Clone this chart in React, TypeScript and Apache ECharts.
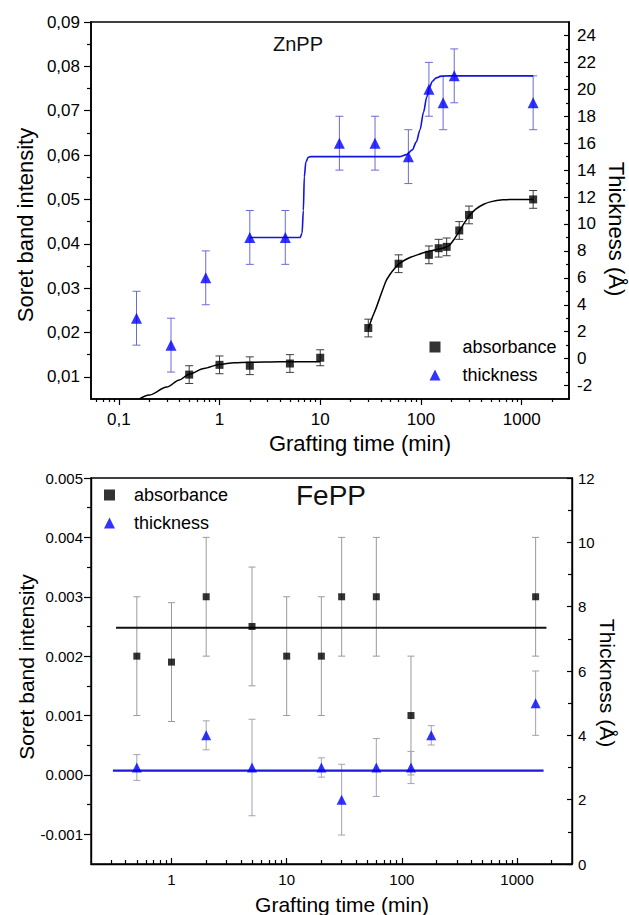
import React, { useEffect, useRef } from 'react';
import * as echarts from 'echarts';

const FONT = '"Liberation Sans", Arial, Helvetica, sans-serif';

// ---------- ZnPP (top chart) ----------
const znAbsTime = [0.5, 1, 2, 5, 10, 30, 60, 120, 150, 180, 240, 300, 1300];
const znAbsValue = [0.0105, 0.0127, 0.0125, 0.013, 0.0143, 0.021, 0.0355, 0.0375, 0.039, 0.0393, 0.043, 0.0465, 0.05];
const znAbsError = [0.002, 0.002, 0.002, 0.002, 0.0018, 0.002, 0.002, 0.002, 0.002, 0.002, 0.002, 0.002, 0.002];

const znThkTime = [0.15, 0.33, 0.73, 2, 4.5, 15.5, 35, 75, 120, 166, 214, 1300];
const znThkValue = [3, 1, 6, 9, 9, 16, 16, 15, 20, 19, 21, 19];
const znThkError = [2, 2, 2, 2, 2, 2, 2, 2, 2, 2, 2, 2];

const znAbsFit1Time = [0.16, 0.2, 0.3, 0.4, 0.5, 0.7, 1, 1.4, 2, 4, 10];
const znAbsFit1Value = [0.005, 0.0059, 0.0077, 0.0093, 0.0106, 0.0119, 0.0128, 0.0132, 0.0133, 0.0134, 0.0134];
const znAbsFit2Time = [30, 33, 36, 40, 45, 50, 55, 60, 70, 80, 95, 110, 130, 150, 170, 190, 210, 240, 270, 300, 350, 420, 500, 650, 850, 1300];
const znAbsFit2Value = [0.0209, 0.0235, 0.0256, 0.0285, 0.0316, 0.0333, 0.0345, 0.0354, 0.0364, 0.037, 0.0376, 0.0381, 0.0385, 0.0388, 0.0391, 0.0396, 0.0408, 0.0428, 0.0447, 0.0462, 0.0478, 0.0489, 0.0495, 0.0499, 0.05, 0.05];
const znThkFitTime = [2, 6.3, 6.6, 6.8, 6.95, 7.2, 7.6, 8, 61, 72, 82, 90, 98, 106, 114, 121, 130, 142, 160, 190, 1300];
const znThkFitValue = [9, 9, 9.3, 11, 13.5, 14.6, 14.95, 15, 15, 15.15, 15.5, 16.1, 17, 18.3, 19.4, 20.1, 20.6, 20.85, 20.97, 21, 21];

const znXTicks = [0.1, 1, 10, 100, 1000];
const znYLeftTicks = [0.01, 0.02, 0.03, 0.04, 0.05, 0.06, 0.07, 0.08, 0.09];
const znYLeftMinor = [0.015, 0.025, 0.035, 0.045, 0.055, 0.065, 0.075, 0.085];
const znYRightTicks = [-2, 0, 2, 4, 6, 8, 10, 12, 14, 16, 18, 20, 22, 24];
const znYRightMinor = [-1, 1, 3, 5, 7, 9, 11, 13, 15, 17, 19, 21, 23];

// ---------- FePP (bottom chart) ----------
const feAbsTime = [0.5, 1, 2, 5, 10, 20, 30, 60, 120, 1450];
const feAbsValue = [0.002, 0.0019, 0.003, 0.0025, 0.002, 0.002, 0.003, 0.003, 0.001, 0.003];
const feAbsError = [0.001, 0.001, 0.001, 0.001, 0.001, 0.001, 0.001, 0.001, 0.001, 0.001];

const feThkTime = [0.5, 2, 5, 20, 30, 60, 120, 180, 1450];
const feThkValue = [3, 4, 3, 3, 2, 3, 3, 4, 5];
const feThkError = [0.4, 0.45, 1.5, 0.3, 1.1, 0.9, 0.5, 0.3, 1];

const feAbsFitTime = [0.33, 1800];
const feAbsFitValue = [0.00248, 0.00248];
const feThkFitTime = [0.31, 1700];
const feThkFitValue = [2.9, 2.9];

const feXTicks = [1, 10, 100, 1000];
const feYLeftTicks = [-0.001, 0, 0.001, 0.002, 0.003, 0.004, 0.005];
const feYLeftMinor = [-0.0005, 0.0005, 0.0015, 0.0025, 0.0035, 0.0045];
const feYRightTicks = [0, 2, 4, 6, 8, 10, 12];
const feYRightMinor = [1, 3, 5, 7, 9, 11];

function logMinorTicks(min: number, max: number) {
  const out: number[] = [];
  for (let p = -3; p <= 4; p++) {
    for (let k = 2; k <= 9; k++) {
      const v = +(k * Math.pow(10, p)).toPrecision(6);
      if (v > min * 1.0001 && v < max * 0.9999) out.push(v);
    }
  }
  return out;
}

const zip = (a: number[], b: number[]) => a.map((t, i) => [t, b[i]]);

function errorSeries(name: string, times: number[], values: number[], errs: number[], xi: number, yi: number, color: string, cap: number) {
  return {
    type: 'custom',
    name,
    xAxisIndex: xi,
    yAxisIndex: yi,
    z: 1,
    silent: true,
    data: times.map((t, i) => [t, values[i], errs[i]]),
    encode: { x: 0, y: 1 },
    renderItem: (_params: any, api: any) => {
      const x = api.value(0);
      const y = api.value(1);
      const e = api.value(2);
      const p1 = api.coord([x, y + e]);
      const p2 = api.coord([x, y - e]);
      const style = { stroke: color, lineWidth: 1 };
      return {
        type: 'group',
        children: [
          { type: 'line', shape: { x1: p1[0], y1: p1[1], x2: p2[0], y2: p2[1] }, style },
          { type: 'line', shape: { x1: p1[0] - cap, y1: p1[1], x2: p1[0] + cap, y2: p1[1] }, style },
          { type: 'line', shape: { x1: p2[0] - cap, y1: p2[1], x2: p2[0] + cap, y2: p2[1] }, style },
        ],
      };
    },
  };
}

function axis(o: any) {
  const base: any = {
    splitLine: { show: false },
    minorTick: { show: false },
    minorSplitLine: { show: false },
    axisLine: { show: o.line !== false, onZero: false, lineStyle: { color: '#000', width: o.lineWidth || 1.5 } },
    axisTick: {
      show: true,
      inside: !!o.inside,
      length: o.tickLen,
      customValues: o.ticks,
      lineStyle: { color: '#000', width: 1.2 },
    },
    axisLabel: o.labels
      ? {
          show: true,
          customValues: o.ticks,
          margin: o.margin,
          fontSize: o.fontSize,
          color: '#000',
          fontFamily: FONT,
          formatter: o.formatter,
        }
      : { show: false },
  };
  const { line, lineWidth, inside, tickLen, ticks, labels, margin, fontSize, formatter, ...rest } = o;
  return { ...base, ...rest };
}

const fmtLogComma = (v: number) => (v < 1 ? String(+(+v).toPrecision(3)).replace('.', ',') : String(Math.round(v)));
const fmtLog = (v: number) => (v < 1 ? String(+(+v).toPrecision(3)) : String(Math.round(v)));

function buildOption(): any {
  const znMin = 0.053;
  const znMax = 2950;
  const feMin = 0.2;
  const feMax = 3000;

  const legendCommon = {
    orient: 'vertical',
    padding: 0,
    itemHeight: 11,
    itemWidth: 11,
    itemGap: 10,
    selectedMode: false,
    data: [
      { name: 'absorbance', icon: 'rect' },
      { name: 'thickness', icon: 'triangle' },
    ],
  };

  return {
    animation: false,
    backgroundColor: '#fff',
    title: [
      { text: 'ZnPP', left: 273, top: 34, padding: 0, textStyle: { fontSize: 20, fontWeight: 'normal', color: '#111', fontFamily: FONT } },
      { text: 'FePP', left: 296, top: 481, padding: 0, textStyle: { fontSize: 28, fontWeight: 'normal', color: '#111', fontFamily: FONT } },
    ],
    legend: [
      { ...legendCommon, left: 429.5, top: 338, textStyle: { fontSize: 18, color: '#000', fontFamily: FONT, padding: [0, 0, 0, 17] } },
      { ...legendCommon, left: 104, top: 486, textStyle: { fontSize: 18, color: '#000', fontFamily: FONT, padding: [0, 0, 0, 14] } },
    ],
    grid: [
      { left: 91, top: 22, width: 478, height: 377, show: true, borderColor: '#000', borderWidth: 1.6, backgroundColor: 'transparent' },
      { left: 91, top: 478, width: 481, height: 386, show: true, borderColor: '#000', borderWidth: 1.4, backgroundColor: 'transparent' },
    ],
    xAxis: [
      axis({ type: 'log', logBase: 10, gridIndex: 0, position: 'bottom', min: znMin, max: znMax, tickLen: 6, ticks: znXTicks, labels: true, margin: 12, fontSize: 17, formatter: fmtLogComma }),
      axis({ type: 'log', logBase: 10, gridIndex: 0, position: 'bottom', min: znMin, max: znMax, line: false, tickLen: 3, ticks: logMinorTicks(znMin, znMax) }),
      axis({ type: 'log', logBase: 10, gridIndex: 1, position: 'bottom', min: feMin, max: feMax, inside: true, tickLen: 6, ticks: feXTicks, labels: true, margin: 8, fontSize: 15, formatter: fmtLog, lineWidth: 1.4 }),
      axis({ type: 'log', logBase: 10, gridIndex: 1, position: 'bottom', min: feMin, max: feMax, line: false, inside: true, tickLen: 4, ticks: logMinorTicks(feMin, feMax) }),
    ],
    yAxis: [
      axis({ type: 'value', gridIndex: 0, position: 'left', min: 0.005, max: 0.09, tickLen: 7, ticks: znYLeftTicks, labels: true, margin: 11, fontSize: 17, formatter: (v: number) => v.toFixed(2).replace('.', ',') }),
      axis({ type: 'value', gridIndex: 0, position: 'left', min: 0.005, max: 0.09, line: false, tickLen: 4, ticks: znYLeftMinor }),
      axis({ type: 'value', gridIndex: 0, position: 'right', min: -3, max: 25, inside: true, tickLen: 5, ticks: znYRightTicks, labels: true, margin: 8, fontSize: 17, formatter: (v: number) => String(Math.round(v)) }),
      axis({ type: 'value', gridIndex: 0, position: 'right', min: -3, max: 25, line: false, inside: true, tickLen: 3, ticks: znYRightMinor }),
      axis({ type: 'value', gridIndex: 1, position: 'left', min: -0.0015, max: 0.005, tickLen: 7, ticks: feYLeftTicks, labels: true, margin: 8, fontSize: 15, lineWidth: 1.4, formatter: (v: number) => (Math.abs(v) < 1e-9 ? '0.000' : v.toFixed(3)) }),
      axis({ type: 'value', gridIndex: 1, position: 'left', min: -0.0015, max: 0.005, line: false, tickLen: 4, ticks: feYLeftMinor }),
      axis({ type: 'value', gridIndex: 1, position: 'right', min: 0, max: 12, inside: true, tickLen: 5, ticks: feYRightTicks, labels: true, margin: 6, fontSize: 15, lineWidth: 1.4, formatter: (v: number) => String(Math.round(v)) }),
      axis({ type: 'value', gridIndex: 1, position: 'right', min: 0, max: 12, line: false, inside: true, tickLen: 4, ticks: feYRightMinor }),
    ],
    graphic: {
      elements: [
        { type: 'text', x: 25, y: 225, rotation: Math.PI / 2, style: { text: 'Soret band intensity', fontSize: 22, fontFamily: FONT, fill: '#000', align: 'center', verticalAlign: 'middle' } },
        { type: 'text', x: 616, y: 229, rotation: -Math.PI / 2, style: { text: 'Thickness (Å)', fontSize: 22, fontFamily: FONT, fill: '#000', align: 'center', verticalAlign: 'middle' } },
        { type: 'text', x: 360, y: 443, style: { text: 'Grafting time (min)', fontSize: 22, fontFamily: FONT, fill: '#000', align: 'center', verticalAlign: 'middle' } },
        { type: 'text', x: 26.5, y: 667, rotation: Math.PI / 2, style: { text: 'Soret band intensity', fontSize: 21, fontFamily: FONT, fill: '#000', align: 'center', verticalAlign: 'middle' } },
        { type: 'text', x: 607, y: 683, rotation: -Math.PI / 2, style: { text: 'Thickness (Å)', fontSize: 21, fontFamily: FONT, fill: '#000', align: 'center', verticalAlign: 'middle' } },
        { type: 'text', x: 342, y: 904, style: { text: 'Grafting time (min)', fontSize: 21, fontFamily: FONT, fill: '#000', align: 'center', verticalAlign: 'middle' } },
      ],
    },
    series: [
      // ZnPP
      errorSeries('absorbance error (ZnPP)', znAbsTime, znAbsValue, znAbsError, 0, 0, '#3c3c3c', 4),
      errorSeries('thickness error (ZnPP)', znThkTime, znThkValue, znThkError, 0, 2, '#6b6bd6', 4),
      { type: 'line', name: 'absorbance fit (ZnPP) 1', xAxisIndex: 0, yAxisIndex: 0, data: zip(znAbsFit1Time, znAbsFit1Value), showSymbol: false, smooth: 0.3, smoothMonotone: 'x', lineStyle: { color: '#000', width: 1.5 }, z: 2, silent: true },
      { type: 'line', name: 'absorbance fit (ZnPP) 2', xAxisIndex: 0, yAxisIndex: 0, data: zip(znAbsFit2Time, znAbsFit2Value), showSymbol: false, smooth: 0.2, lineStyle: { color: '#000', width: 1.5 }, z: 2, silent: true },
      { type: 'line', name: 'thickness fit (ZnPP)', xAxisIndex: 0, yAxisIndex: 2, data: zip(znThkFitTime, znThkFitValue), showSymbol: false, smooth: 0.3, smoothMonotone: 'x', lineStyle: { color: '#1414e0', width: 1.6 }, z: 2, silent: true },
      { type: 'scatter', name: 'absorbance', xAxisIndex: 0, yAxisIndex: 0, data: zip(znAbsTime, znAbsValue), symbol: 'rect', symbolSize: 8, itemStyle: { color: '#000' }, z: 3 },
      { type: 'scatter', name: 'thickness', xAxisIndex: 0, yAxisIndex: 2, data: zip(znThkTime, znThkValue), symbol: 'triangle', symbolSize: 11, itemStyle: { color: '#0000ff' }, z: 3 },
      // FePP
      errorSeries('absorbance error (FePP)', feAbsTime, feAbsValue, feAbsError, 2, 4, '#9a9a9a', 3.5),
      errorSeries('thickness error (FePP)', feThkTime, feThkValue, feThkError, 2, 6, '#a2a2b6', 3.5),
      { type: 'line', name: 'absorbance fit (FePP)', xAxisIndex: 2, yAxisIndex: 4, data: zip(feAbsFitTime, feAbsFitValue), showSymbol: false, lineStyle: { color: '#111', width: 2 }, z: 2, silent: true },
      { type: 'line', name: 'thickness fit (FePP)', xAxisIndex: 2, yAxisIndex: 6, data: zip(feThkFitTime, feThkFitValue), showSymbol: false, lineStyle: { color: '#1a1ad8', width: 2.2 }, z: 2, silent: true },
      { type: 'scatter', name: 'absorbance', xAxisIndex: 2, yAxisIndex: 4, data: zip(feAbsTime, feAbsValue), symbol: 'rect', symbolSize: 7, itemStyle: { color: '#000' }, z: 3 },
      { type: 'scatter', name: 'thickness', xAxisIndex: 2, yAxisIndex: 6, data: zip(feThkTime, feThkValue), symbol: 'triangle', symbolSize: 10, itemStyle: { color: '#0000ff' }, z: 3 },
    ],
  };
}

export default function App() {
  const ref = useRef<HTMLDivElement>(null);
  useEffect(() => {
    document.body.style.margin = '0';
    const chart = echarts.init(ref.current as HTMLDivElement, null, { renderer: 'svg' });
    chart.setOption(buildOption());
    return () => chart.dispose();
  }, []);
  return <div ref={ref} style={{ width: 629, height: 915, background: '#fff' }} />;
}
